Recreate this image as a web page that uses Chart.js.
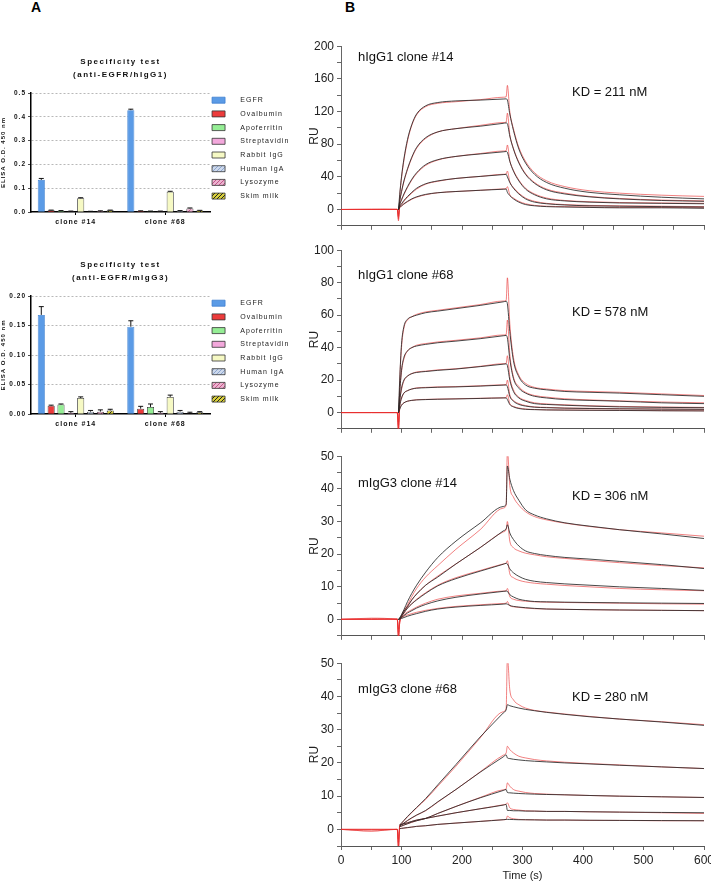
<!DOCTYPE html>
<html>
<head>
<meta charset="utf-8">
<script src="https://cdn.jsdelivr.net/npm/chart.js@4.4.1/dist/chart.umd.min.js"></script>
<style>
  html, body { margin: 0; padding: 0; background: #fff; }
  body { width: 711px; height: 883px; position: relative; overflow: hidden; font-family: "Liberation Sans", Arial, sans-serif; }
  .panel { position: absolute; font-weight: bold; font-size: 14px; line-height: 14px; }
  canvas { position: absolute; }
</style>
</head>
<body>
<div class="panel" style="left:31px;top:0px">A</div>
<div class="panel" style="left:345px;top:0px">B</div>
<canvas id="barH" width="330" height="178" style="left:0;top:52px"></canvas>
<canvas id="barM" width="330" height="177" style="left:0;top:255px"></canvas>
<canvas id="spr1" width="411" height="200" style="left:300px;top:36px"></canvas>
<canvas id="spr2" width="411" height="199" style="left:300px;top:240px"></canvas>
<canvas id="spr3" width="411" height="200" style="left:300px;top:446px"></canvas>
<canvas id="spr4" width="420" height="230" style="left:300px;top:653px"></canvas>
<script>
// ---- A: ELISA specificity ----
const clones = ["clone #14", "clone #68"];
const antigens = ["EGFR", "Ovalbumin", "Apoferritin", "Streptavidin", "Rabbit IgG", "Human IgA", "Lysozyme", "Skim milk"];
// one row per antigen: [clone #14, clone #68]
const hIgG1Mean = [[0.135, 0.428], [0.007, 0.004], [0.005, 0.003], [0.003, 0.003], [0.058, 0.085], [0.002, 0.005], [0.004, 0.015], [0.007, 0.006]];
const hIgG1Err = [[0.006, 0.004], [0.001, 0.001], [0.001, 0.001], [0.001, 0.001], [0.002, 0.002], [0.001, 0.001], [0.001, 0.002], [0.001, 0.001]];
const mIgG3Mean = [[0.168, 0.148], [0.014, 0.009], [0.016, 0.012], [0.002, 0.002], [0.027, 0.029], [0.004, 0.004], [0.004, 0.001], [0.006, 0.003]];
const mIgG3Err = [[0.014, 0.010], [0.001, 0.004], [0.001, 0.005], [0.002, 0.002], [0.002, 0.003], [0.002, 0.002], [0.003, 0.002], [0.002, 0.001]];

// ---- B: SPR sensorgrams (RU) ----
const time = [0, 50, 93, 95, 97, 100, 104, 110, 117, 125, 140, 160, 190, 230, 268, 273, 275, 279, 285, 294, 305, 320, 340, 370, 410, 460, 530, 600];
const n = null;
const hG14Fit = [
  [n, n, n, 0, 18, 40, 62, 86, 104, 117, 127, 131, 133, 134, 135.3, 135.5, 134, 117, 97, 74, 57, 43, 33, 26, 21, 18, 15, 13],
  [n, n, n, 0, 10, 22, 35, 50, 64, 76, 88, 95, 99, 102, 105.5, 106, 105, 90, 74, 57, 43, 32, 24, 19, 15.5, 13, 11, 10],
  [n, n, n, 0, 6, 12, 19, 28, 37, 45, 55, 61, 65, 68, 70.6, 71, 70, 59, 47, 35, 25, 18, 13, 10.5, 9, 8, 7.5, 7],
  [n, n, n, 0, 4, 7, 11, 16, 21, 26, 31.5, 35, 38, 40.5, 42.7, 43, 40, 33, 26, 19, 13, 9, 7, 5.5, 4.5, 4, 3.5, 3],
  [n, n, n, 0, 2.5, 4.5, 7, 10, 13, 15.5, 18.5, 20.5, 22, 23.5, 24.8, 25, 21, 17, 13, 9, 6, 4.5, 3.5, 3, 2.5, 2, 2, 1.5]
];
const hG14Run = [
  [0, 0.5, 0, -14, 15, 38, 60, 84, 103, 116, 126, 130, 132, 134.5, 137.5, 138, 152, 120, 99, 76, 59, 45, 35, 28, 23, 20, 17.5, 16],
  [0, 0, 0.5, -12, 9, 21, 34, 49, 63, 75, 87, 95, 99, 103, 106.5, 107, 118, 92, 75, 58, 44, 33, 25, 20, 16, 13.5, 11.5, 10.5],
  [0, 0, 0, -10, 5, 11, 18, 27, 36, 44, 54, 60.5, 65, 68.5, 71.6, 72, 79, 60, 48, 36, 26, 19, 14, 11, 9.5, 8.5, 8, 7.5],
  [0, 0, 0, -8, 3, 6, 10, 15, 20, 25, 31, 34.5, 38, 40.5, 43.1, 43.5, 47, 34, 27, 20, 14, 10, 7.5, 6, 5, 4.5, 4, 3.5],
  [0, 0, 0, -6, 2, 4, 6.5, 9.5, 12.5, 15, 18, 20.5, 22, 23.5, 25.2, 25.5, 28, 18, 14, 10, 7, 5, 4, 3.5, 3, 2.5, 2.5, 2]
];
const hG68Fit = [
  [n, n, n, 0, 20, 42, 53, 57.5, 59, 60, 61.5, 62.5, 64, 66, 68.2, 68.5, 67, 50, 32, 22, 17, 15, 14, 13, 12.5, 12, 11, 10],
  [n, n, n, 0, 12, 26, 34, 38, 40, 41, 42, 43, 44, 45.5, 47.3, 47.5, 46, 33, 21, 15, 12, 10, 9, 8, 7.5, 7, 6, 5.5],
  [n, n, n, 0, 7, 15, 20, 22.5, 24, 24.7, 25.3, 26, 26.8, 28.3, 29.8, 30, 29, 20, 13, 9, 7, 5.5, 5, 4.5, 4, 3.5, 3.2, 3],
  [n, n, n, 0, 4, 9, 12, 13.5, 14.5, 15, 15.3, 15.6, 15.8, 16.3, 16.9, 17, 16, 10, 7, 5, 4, 3.3, 3, 2.7, 2.5, 2.3, 2.1, 2],
  [n, n, n, 0, 2, 4.5, 6, 7, 7.5, 7.8, 8, 8.2, 8.4, 8.7, 9, 9, 8, 5, 3.5, 2.5, 2, 1.8, 1.6, 1.5, 1.4, 1.3, 1.1, 1]
];
const hG68Run = [
  [0, 0, 0, -12, 18, 40, 52, 57, 59, 60.5, 62, 63, 64.5, 66.5, 68.7, 69, 83, 55, 34, 23, 18, 15.5, 14.5, 13.5, 13, 12.5, 11.5, 10.5],
  [0, 0, 0, -12, 11, 25, 33, 38, 40, 41.5, 42.5, 43.5, 44.5, 46, 47.8, 48, 57, 36, 22, 16, 12.5, 10.5, 9.5, 8.5, 7.8, 7.2, 6.5, 6],
  [0, 0, 0, -10, 6, 14, 19.5, 22.5, 24, 25, 25.5, 26.3, 27, 28.5, 30.1, 30.3, 35, 22, 14, 9.5, 7.5, 6, 5.3, 4.8, 4.2, 3.8, 3.4, 3.2],
  [0, 0, 0, -8, 4, 8.5, 12, 13.5, 14.5, 15.2, 15.5, 15.8, 16, 16.5, 17.1, 17.2, 20, 11, 7.5, 5.5, 4.3, 3.5, 3.2, 2.8, 2.6, 2.4, 2.2, 2],
  [0, 0, 0, -6, 2, 4.5, 6, 7, 7.5, 7.9, 8.1, 8.3, 8.5, 8.8, 9.1, 9.2, 11, 5.5, 3.8, 2.8, 2.2, 1.9, 1.7, 1.6, 1.5, 1.4, 1.2, 1.1]
];
const mG14Fit = [
  [n, n, n, 0, 0.5, 1.5, 3, 5.5, 8, 10.5, 14.5, 19, 24, 29.5, 34.6, 35.3, 47, 43, 39.5, 36.5, 33.6, 32, 30.8, 29.6, 28.6, 27.5, 26.2, 24.8],
  [n, n, n, 0, 0.4, 1.2, 2.5, 4, 6, 7.8, 10.5, 13, 17, 22, 27.1, 27.8, 29, 26.5, 24.5, 22.5, 21, 20.2, 19.6, 19, 18.5, 17.8, 16.8, 15.6],
  [n, n, n, 0, 0.3, 1, 2, 3.5, 4.8, 6, 8, 10.3, 12.5, 14.8, 16.9, 17.2, 17, 15.5, 14.3, 13.2, 12.3, 11.7, 11.3, 10.9, 10.5, 10, 9.5, 8.9],
  [n, n, n, 0, 0.2, 0.6, 1.2, 2, 2.7, 3.5, 4.6, 5.7, 6.8, 7.8, 8.6, 8.7, 8.6, 7.6, 6.9, 6.2, 5.8, 5.5, 5.4, 5.3, 5.2, 5.1, 5, 4.9],
  [n, n, n, 0, 0.1, 0.3, 0.6, 1, 1.4, 1.8, 2.5, 3.2, 3.8, 4.3, 4.7, 4.8, 4.7, 4.3, 4, 3.8, 3.6, 3.4, 3.2, 3.1, 3, 2.9, 2.8, 2.7]
];
const mG14Run = [
  [0.2, 0.3, 0, -6, -1, 1, 2.5, 4.5, 7, 9.5, 13, 16.5, 21.5, 27.5, 34.1, 35, 52, 41, 37.5, 35, 33, 31.5, 30.5, 29.5, 28.5, 27.5, 26.5, 25.5],
  [0, 0.4, 0, -6, -1, 1, 2.5, 4, 6, 7.8, 10.5, 13.3, 17, 22, 26.8, 27.5, 30, 24, 22, 21, 20.3, 19.8, 19.2, 18.7, 18.1, 17.4, 16.5, 15.8],
  [0, 0, 0.3, -5, -1, 0.8, 2, 3.5, 4.8, 6.2, 8.2, 10.5, 12.8, 15, 17, 17.3, 18, 14, 12.8, 12, 11.5, 11.1, 10.8, 10.4, 10, 9.5, 9.1, 8.8],
  [0, 0, 0, -4, -0.5, 0.6, 1.5, 2.3, 3, 3.8, 5, 6.2, 7.2, 8, 8.7, 8.8, 9.5, 7, 6.2, 5.8, 5.6, 5.4, 5.3, 5.2, 5.1, 5, 4.8, 4.7],
  [0, 0, 0, -3, 0, 0.5, 1, 1.4, 1.8, 2.2, 2.8, 3.4, 4, 4.5, 4.9, 5, 5.5, 4.2, 3.9, 3.7, 3.5, 3.3, 3.2, 3.1, 3, 2.9, 2.8, 2.7]
];
const mG68Fit = [
  [n, n, n, n, 1.3, 1.9, 2.7, 3.9, 5.2, 6.6, 9.3, 13.4, 19.5, 27.8, 35, 36, 37.5, 37.2, 36.9, 36.5, 36.1, 35.7, 35.2, 34.6, 33.9, 33.2, 32.3, 31.3],
  [n, n, n, n, 1, 1.4, 1.9, 2.7, 3.5, 4.3, 5.7, 8.3, 12, 17.2, 21.8, 22.4, 21.5, 21.3, 21.1, 20.9, 20.7, 20.5, 20.3, 20, 19.7, 19.3, 18.8, 18.3],
  [n, n, n, n, 0.8, 1, 1.3, 1.7, 2.2, 2.6, 3.3, 4.8, 6.9, 9.5, 11.7, 12, 11.1, 11, 10.9, 10.8, 10.7, 10.6, 10.5, 10.4, 10.2, 10, 9.8, 9.6],
  [n, n, n, n, 1.3, 1.5, 1.7, 2, 2.4, 2.8, 3.3, 4, 5, 6.2, 7.3, 7.5, 5.7, 5.7, 5.6, 5.6, 5.5, 5.5, 5.4, 5.4, 5.3, 5.2, 5.1, 5],
  [n, n, n, n, 0.2, 0.3, 0.4, 0.55, 0.7, 0.9, 1.1, 1.5, 1.9, 2.4, 2.9, 3, 3, 3, 2.95, 2.9, 2.9, 2.85, 2.8, 2.8, 2.75, 2.7, 2.65, 2.6]
];
const mG68Run = [
  [0, -0.5, 0, -6, 1, 1.8, 2.6, 3.8, 5, 6.5, 9, 13, 19, 27.5, 35.4, 36.5, 52, 42, 39, 37.5, 36.5, 35.8, 35.3, 34.7, 34, 33.2, 32.4, 31.5],
  [0, -0.5, 0, -6, 1, 1.4, 1.9, 2.6, 3.4, 4.3, 5.6, 8.2, 12, 17.3, 22.3, 23, 25, 24, 23, 22, 21.5, 21, 20.6, 20.2, 19.8, 19.4, 18.8, 18.3],
  [0, 0, 0, -5, 0.8, 1, 1.3, 1.7, 2.1, 2.6, 3.3, 4.8, 6.9, 9.6, 11.9, 12.2, 14, 13, 12, 11.5, 11.1, 10.8, 10.6, 10.4, 10.2, 10, 9.8, 9.6],
  [0, 0, 0, -4, 1.2, 1.5, 1.7, 2, 2.4, 2.8, 3.3, 4, 5, 6.2, 7.4, 7.6, 8, 6.5, 6, 5.8, 5.6, 5.5, 5.4, 5.4, 5.3, 5.2, 5, 4.8],
  [0, 0, 0, -3, 0.2, 0.3, 0.4, 0.5, 0.7, 0.9, 1.1, 1.5, 1.9, 2.4, 2.9, 3, 4, 3.5, 3.2, 3, 2.9, 2.9, 2.8, 2.8, 2.7, 2.7, 2.6, 2.6]
];

const FONT = "'Liberation Sans', Arial, sans-serif";
Chart.defaults.font.family = FONT;
Chart.defaults.color = "#222";
Chart.defaults.animation = false;

// diagonal hatch fill for the patterned bars
function hatch(bg, fg) {
  const c = document.createElement("canvas");
  c.width = c.height = 4;
  const x = c.getContext("2d");
  x.fillStyle = bg;
  x.fillRect(0, 0, 4, 4);
  x.strokeStyle = fg;
  x.lineWidth = 1;
  x.beginPath();
  x.moveTo(0, 4); x.lineTo(4, 0);
  x.moveTo(-1, 1); x.lineTo(1, -1);
  x.moveTo(3, 5); x.lineTo(5, 3);
  x.stroke();
  return x.createPattern(c, "repeat");
}
const fills = ["#5b9be6", "#ec3b3b", "#95ee95", "#f3a8dc", "#f6f9c4",
  hatch("#cdd9ec", "#8ea6cf"), hatch("#ecb2cf", "#c2578a"), hatch("#d8cf3a", "#222")];
const edges = ["#3d7fd0", "#333", "#333", "#333", "#333", "#333", "#333", "#333"];

// free text placed on the canvas (titles, KD values)
const captions = {
  id: "captions",
  afterDraw(chart, args, opts) {
    const ctx = chart.ctx;
    const a = chart.chartArea;
    (opts.items || []).forEach(it => {
      ctx.save();
      ctx.font = it.font;
      ctx.fillStyle = it.color || "#111";
      ctx.letterSpacing = it.spacing || "0px";
      ctx.textAlign = it.align || "left";
      ctx.textBaseline = "middle";
      const x = it.x === "mid" ? (a.left + a.right) / 2 : it.x;
      ctx.fillText(it.text, x, it.y);
      ctx.restore();
    });
  }
};

// Prism-like widely spaced lettering
const spaced = {
  id: "spaced",
  beforeLayout(chart) { chart.ctx.letterSpacing = "1px"; },
  beforeDraw(chart) { chart.ctx.letterSpacing = "1px"; }
};

const legendNudge = {
  id: "legendNudge",
  afterLayout(chart, args, opts) {
    if (chart.legend) {
      chart.legend.top += opts.dy || 0;
      chart.legend.left += opts.dx || 0;
    }
  }
};

// SD whiskers above each bar
const errorBars = {
  id: "errorBars",
  afterDatasetsDraw(chart) {
    const ctx = chart.ctx;
    const y = chart.scales.y;
    chart.data.datasets.forEach((ds, di) => {
      chart.getDatasetMeta(di).data.forEach((bar, i) => {
        const e = ds.errors[i];
        if (!e) return;
        const top = y.getPixelForValue(ds.data[i] + e);
        ctx.save();
        ctx.strokeStyle = "#111";
        ctx.lineWidth = 1;
        ctx.beginPath();
        ctx.moveTo(bar.x, bar.y);
        ctx.lineTo(bar.x, top);
        ctx.moveTo(bar.x - 2.5, top);
        ctx.lineTo(bar.x + 2.5, top);
        ctx.stroke();
        ctx.restore();
      });
    });
  }
};

function barChart(id, means, errs, yMax, step, digits, subtitle) {
  return new Chart(document.getElementById(id), {
    type: "bar",
    data: {
      labels: clones,
      datasets: antigens.map((name, k) => ({
        label: name,
        data: means[k],
        errors: errs[k],
        backgroundColor: fills[k],
        borderColor: edges[k],
        borderWidth: 0.8
      }))
    },
    options: {
      responsive: false,
      layout: { padding: { top: 41, right: 26 } },
      datasets: { bar: { categoryPercentage: 0.88, barPercentage: 0.72 } },
      plugins: {
        tooltip: { enabled: false },
        legend: {
          position: "right",
          align: "start",
          maxWidth: 120,
          labels: {
            boxWidth: 13,
            boxHeight: 6,
            padding: 6.7,
            color: "#222",
            font: { size: 7 },
            generateLabels: c => Chart.defaults.plugins.legend.labels.generateLabels(c)
              .map(l => Object.assign(l, { text: "    " + l.text }))
          }
        },
        legendNudge: { dy: -3, dx: -4.7 },
        captions: {
          items: [
            { text: "Specificity test", x: "mid", y: 10, font: "bold 8px " + FONT, align: "center", spacing: "1.5px" },
            { text: subtitle, x: "mid", y: 23, font: "bold 8px " + FONT, align: "center", spacing: "1.5px" }
          ]
        }
      },
      scales: {
        x: {
          grid: { offset: false, drawOnChartArea: false, tickLength: 3, color: "#000" },
          border: { color: "#000", width: 1.5 },
          ticks: { font: { size: 7, weight: "bold" }, color: "#111", padding: 3 },
          afterFit: s => { s.height = 18; }
        },
        y: {
          min: 0,
          max: yMax,
          ticks: { stepSize: step, callback: v => v.toFixed(digits), font: { size: 6.5, weight: "bold" }, color: "#111", padding: 2 },
          grid: {
            color: c => c.tick && c.tick.value === 0 ? "rgba(0,0,0,0)" : "#9a9a9a",
            lineWidth: 0.7,
            tickColor: "#000",
            tickLength: 3,
            tickBorderDash: []
          },
          border: { color: "#000", width: 1.5, dash: [2, 2] },
          title: { display: true, text: "ELISA O.D. 450 nm", font: { size: 6, weight: "bold" }, color: "#111", padding: 0 },
          afterFit: s => { s.width = 31; }
        }
      }
    },
    plugins: [spaced, legendNudge, errorBars, captions]
  });
}

barChart("barH", hIgG1Mean, hIgG1Err, 0.5, 0.1, 1, "(anti-EGFR/hIgG1)");
barChart("barM", mIgG3Mean, mIgG3Err, 0.2, 0.05, 2, "(anti-EGFR/mIgG3)");

function sensorChart(id, fits, runs, yMin, yMax, yStep, labelEvery, title, kd, titleY, kdY, last) {
  const pts = row => time.map((t, i) => ({ x: t, y: row[i] }));
  const datasets = [];
  runs.forEach(row => datasets.push({ data: pts(row), borderColor: "rgba(232,45,45,0.6)", borderWidth: 1, order: 2 }));
  fits.forEach(row => datasets.push({ data: pts(row), borderColor: "rgba(40,40,40,0.85)", borderWidth: 1, order: 1 }));
  return new Chart(document.getElementById(id), {
    type: "line",
    data: { datasets },
    options: {
      responsive: false,
      layout: { padding: { top: 10, right: last ? 16 : 7 } },
      elements: { point: { radius: 0 }, line: { cubicInterpolationMode: "monotone" } },
      plugins: {
        legend: { display: false },
        tooltip: { enabled: false },
        captions: {
          items: [
            { text: title, x: 58, y: titleY, font: "13px " + FONT },
            { text: kd, x: 272, y: kdY, font: "13px " + FONT }
          ]
        }
      },
      scales: {
        x: {
          type: "linear",
          min: 0,
          max: 600,
          ticks: {
            display: last,
            stepSize: 50,
            autoSkip: false,
            maxRotation: 0,
            callback: v => v % 100 === 0 ? v : "",
            font: { size: 12 },
            padding: 3
          },
          grid: { drawOnChartArea: false, tickLength: 4, color: "#666" },
          border: { color: "#555" },
          title: { display: last, text: "Time (s)", font: { size: 11 }, padding: 0 },
          afterFit: s => { s.height = last ? 37 : 7; }
        },
        y: {
          min: yMin,
          max: yMax,
          ticks: {
            stepSize: yStep,
            autoSkip: false,
            callback: v => (v >= 0 && v % labelEvery === 0) ? v : "",
            font: { size: 12 },
            padding: 3
          },
          grid: { drawOnChartArea: false, tickLength: 4, color: "#666" },
          border: { color: "#666" },
          title: { display: true, text: "RU", font: { size: 12 }, padding: { top: 7, bottom: 0 } },
          afterFit: s => { s.width = 41; }
        }
      }
    },
    plugins: [captions]
  });
}

sensorChart("spr1", hG14Fit, hG14Run, -20, 200, 20, 40, "hIgG1 clone #14", "KD = 211 nM", 21, 56, false);
sensorChart("spr2", hG68Fit, hG68Run, -10, 100, 10, 20, "hIgG1 clone #68", "KD = 578 nM", 35, 72, false);
sensorChart("spr3", mG14Fit, mG14Run, -5, 50, 5, 10, "mIgG3 clone #14", "KD = 306 nM", 37, 50, false);
sensorChart("spr4", mG68Fit, mG68Run, -5, 50, 5, 10, "mIgG3 clone #68", "KD = 280 nM", 36, 44, true);
</script>
</body>
</html>
